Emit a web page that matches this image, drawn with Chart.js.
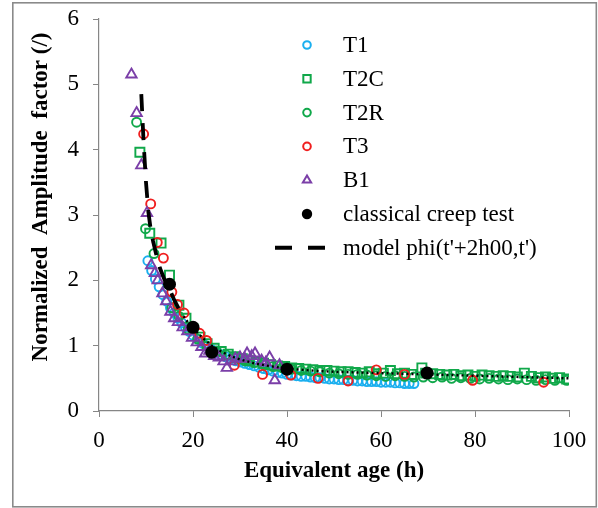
<!DOCTYPE html>
<html>
<head>
<meta charset="utf-8">
<script src="https://cdn.jsdelivr.net/npm/chart.js@4.4.1/dist/chart.umd.min.js"></script>
<style>
html,body{margin:0;padding:0;background:#fff;}
#wrap{position:relative;width:598px;height:508px;}
</style>
</head>
<body>
<div id="wrap"><canvas id="c" width="598" height="508"></canvas></div>
<script>
// ---- data ----
const seriesLabels = ["T1", "T2C", "T2R", "T3", "B1", "classical creep test", "model phi(t'+2h00,t')"];
const xTicks = [0, 20, 40, 60, 80, 100];
const yTicks = [0, 1, 2, 3, 4, 5, 6];

const t1X = [10.4, 11.2, 12.0, 12.8, 13.6, 14.4, 15.2, 16.0, 16.8, 17.6, 18.4, 19.2, 20.0, 21.0, 22.0, 23.0, 24.0, 25.0, 26.0, 27.0, 28.0, 29.0, 30.0, 31.0, 32.0, 33.0, 34.0, 35.0, 36.0, 37.0, 38.0, 39.0, 40.0, 41.0, 42.0, 43.0, 44.0, 45.0, 46.0, 47.0, 48.0, 49.0, 50.0, 51.0, 52.0, 53.0, 54.0, 55.0, 56.0, 57.0, 58.0, 59.0, 60.0, 61.0, 62.0, 63.0, 64.0, 65.0, 66.0, 67.0];
const t1Y = [2.30, 2.15, 2.02, 1.90, 1.78, 1.68, 1.58, 1.50, 1.42, 1.35, 1.28, 1.22, 1.16, 1.10, 1.04, 0.99, 0.94, 0.90, 0.86, 0.83, 0.80, 0.77, 0.75, 0.73, 0.71, 0.69, 0.67, 0.65, 0.63, 0.61, 0.59, 0.58, 0.56, 0.55, 0.54, 0.53, 0.53, 0.52, 0.51, 0.51, 0.50, 0.49, 0.49, 0.48, 0.48, 0.47, 0.47, 0.46, 0.46, 0.45, 0.45, 0.45, 0.44, 0.44, 0.44, 0.43, 0.43, 0.42, 0.42, 0.42];

const t2cX = [8.7, 10.8, 13.2, 15.0, 17.0, 18.5, 20, 21.5, 23, 24.5, 26, 27.5, 29, 30.5, 32, 33.5, 35, 36.5, 38, 39.5, 41, 42.5, 44, 45.5, 47, 48.5, 50, 51.5, 53, 54.5, 56, 57.5, 59, 60.5, 62, 63.5, 65, 66.5, 68.7, 69.5, 71, 72.5, 74, 75.5, 77, 78.5, 80, 81.5, 83, 84.5, 86, 87.5, 89, 90.5, 92, 93.5, 95, 96.5, 98, 99.5];
const t2cY = [3.96, 2.72, 2.57, 2.08, 1.62, 1.42, 1.26, 1.13, 1.03, 0.96, 0.91, 0.87, 0.83, 0.80, 0.77, 0.75, 0.73, 0.71, 0.69, 0.68, 0.66, 0.65, 0.64, 0.63, 0.62, 0.62, 0.61, 0.60, 0.60, 0.59, 0.58, 0.60, 0.57, 0.58, 0.62, 0.57, 0.58, 0.56, 0.66, 0.58, 0.57, 0.56, 0.55, 0.56, 0.54, 0.55, 0.53, 0.55, 0.54, 0.53, 0.54, 0.53, 0.52, 0.58, 0.53, 0.51, 0.52, 0.50, 0.51, 0.49];

const t2rX = [8.0, 9.9, 11.7, 15.5, 17, 19, 21, 23, 25, 27, 29, 31, 33, 35, 37, 39, 41, 43, 45, 47, 49, 51, 53, 55, 57, 59, 61, 63, 65, 67, 69, 71, 73, 75, 77, 79, 81, 83, 85, 87, 89, 91, 93, 95, 97, 99.5];
const t2rY = [4.42, 2.79, 2.41, 1.58, 1.45, 1.25, 1.10, 0.99, 0.92, 0.86, 0.81, 0.77, 0.74, 0.71, 0.68, 0.66, 0.64, 0.62, 0.61, 0.60, 0.58, 0.57, 0.56, 0.56, 0.55, 0.54, 0.53, 0.54, 0.53, 0.52, 0.52, 0.51, 0.52, 0.50, 0.51, 0.50, 0.49, 0.50, 0.49, 0.48, 0.49, 0.48, 0.47, 0.48, 0.47, 0.47];

const t3X = [9.5, 11.0, 12.4, 13.7, 15.5, 16.7, 18.1, 21.4, 22.9, 28.8, 34.8, 40.8, 46.6, 53.0, 59.0, 65.0, 79.5, 94.6];
const t3Y = [4.24, 3.17, 2.58, 2.34, 1.82, 1.63, 1.50, 1.19, 1.08, 0.70, 0.56, 0.55, 0.50, 0.46, 0.63, 0.56, 0.47, 0.44];

const b1X = [6.9, 8.0, 9.0, 10.2, 11.1, 11.9, 12.5, 13.5, 14.3, 15.2, 16.0, 16.8, 17.8, 18.8, 19.8, 20.8, 21.8, 22.6, 23.5, 24.5, 25.5, 26.5, 27.2, 28.0, 29.0, 30.0, 31.0, 31.5, 32.5, 33.2, 34.6, 35.5, 36.3, 37.4, 38.4];
const b1Y = [5.15, 4.56, 3.76, 3.03, 2.23, 2.11, 2.00, 1.80, 1.68, 1.52, 1.42, 1.36, 1.28, 1.22, 1.12, 1.05, 0.98, 0.88, 0.92, 0.84, 0.82, 0.76, 0.66, 0.76, 0.80, 0.82, 0.80, 0.88, 0.84, 0.88, 0.77, 0.74, 0.82, 0.47, 0.70];

const creepX = [15.0, 20.0, 24.0, 40.0, 69.8];
const creepY = [1.94, 1.28, 0.90, 0.64, 0.58];

const modelX = [9.0, 9.5, 10.0, 10.5, 11.0, 11.5, 12.0, 12.5, 13.0, 14.0, 15.0, 16.0, 17.0, 18.0, 19.0, 20.0, 22.0, 24.0, 26.0, 28.0, 30.0, 33.0, 36.0, 40.0, 45.0, 50.0, 55.0, 60.0, 65.0, 70.0, 75.0, 80.0, 85.0, 90.0, 95.0, 100.0];
const modelY = [4.85, 4.10, 3.50, 3.05, 2.78, 2.60, 2.45, 2.30, 2.18, 2.00, 1.87, 1.70, 1.56, 1.45, 1.35, 1.27, 1.12, 1.00, 0.91, 0.84, 0.79, 0.73, 0.69, 0.65, 0.62, 0.60, 0.59, 0.58, 0.57, 0.56, 0.55, 0.54, 0.53, 0.52, 0.51, 0.50];

// ---- build ----
const pts = (xs, ys) => xs.map((x, i) => ({x: x, y: ys[i]}));
const SERIF = "'Liberation Serif', 'Times New Roman', serif";
const AXIS_GRAY = '#868686';
const FONT_PX = 23;

const datasets = [
  {label: seriesLabels[0], data: pts(t1X, t1Y), pointStyle: 'circle', pointRadius: 4.5, borderColor: '#1AAFEF', backgroundColor: 'rgba(0,0,0,0)', pointBorderWidth: 1.9, showLine: false, order: 7},
  {label: seriesLabels[1], data: pts(t2cX, t2cY), pointStyle: 'rect', pointRadius: 6.4, borderColor: '#10A84A', backgroundColor: 'rgba(0,0,0,0)', pointBorderWidth: 1.9, showLine: false, order: 6},
  {label: seriesLabels[2], data: pts(t2rX, t2rY), pointStyle: 'circle', pointRadius: 4.5, borderColor: '#10A84A', backgroundColor: 'rgba(0,0,0,0)', pointBorderWidth: 1.9, showLine: false, order: 5},
  {label: seriesLabels[3], data: pts(t3X, t3Y), pointStyle: 'circle', pointRadius: 4.5, borderColor: '#F01E1E', backgroundColor: 'rgba(0,0,0,0)', pointBorderWidth: 1.9, showLine: false, order: 4},
  {label: seriesLabels[4], data: pts(b1X, b1Y), pointStyle: 'triangle', pointRadius: 6.0, borderColor: '#7B3FA8', backgroundColor: 'rgba(0,0,0,0)', pointBorderWidth: 1.9, showLine: false, order: 3},
  {label: seriesLabels[5], data: pts(creepX, creepY), pointStyle: 'circle', pointRadius: 6.5, borderColor: '#000', backgroundColor: '#000', pointBorderWidth: 0, showLine: false, order: 2},
  {label: seriesLabels[6], data: pts(modelX, modelY), pointRadius: 0, borderColor: '#000', backgroundColor: '#000', borderWidth: 3.8, borderDash: [17, 12], showLine: true, tension: 0, order: 1,
   segment: {
     borderDash: (c) => c.p0.parsed.x >= 18 ? [2, 3] : undefined,
     borderWidth: (c) => c.p0.parsed.x >= 18 ? 2.4 : undefined
   }}
];

const frame = {
  id: 'frame',
  beforeDraw(chart) {
    const ctx = chart.ctx;
    ctx.save();
    ctx.fillStyle = '#fff';
    ctx.fillRect(0, 0, chart.width, chart.height);
    ctx.strokeStyle = '#8a8a8a';
    ctx.lineWidth = 1.6;
    ctx.strokeRect(12.8, 2.8, 583.5, 504);
    ctx.restore();
  },
  afterDraw(chart) {
    const ctx = chart.ctx;
    ctx.save();
    // y-axis title
    ctx.translate(41, 197);
    ctx.rotate(-Math.PI / 2);
    ctx.fillStyle = '#000';
    ctx.font = "bold " + FONT_PX + "px " + SERIF;
    ctx.textAlign = 'center';
    ctx.textBaseline = 'middle';
    ctx.fillText('Normalized  Amplitude  factor (/)', 0, 0);
    ctx.restore();

    // legend
    ctx.save();
    const mx = 307, tx = 343, y0 = 45, dy = 33.8;
    chart.data.datasets.forEach((ds, i) => {
      const y = y0 + i * dy;
      ctx.strokeStyle = ds.borderColor;
      ctx.fillStyle = ds.backgroundColor;
      ctx.setLineDash([]);
      if (ds.showLine) {
        ctx.lineWidth = 4;
        ctx.beginPath();
        ctx.moveTo(275, y); ctx.lineTo(292, y);
        ctx.moveTo(308, y); ctx.lineTo(325, y);
        ctx.stroke();
      } else {
        const r = ds.pointStyle === 'rect' ? 5.2 : (ds.pointStyle === 'triangle' ? 4.8 : (ds.pointBorderWidth === 0 ? 5.2 : 3.8));
        ctx.lineWidth = 2;
        Chart.helpers.drawPoint(ctx, {pointStyle: ds.pointStyle, radius: r, borderWidth: ds.pointBorderWidth > 0 ? 2 : 0, rotation: 0}, mx, y);
      }
      ctx.fillStyle = '#000';
      ctx.font = FONT_PX + "px " + SERIF;
      ctx.textAlign = 'left';
      ctx.textBaseline = 'middle';
      ctx.fillText(ds.label, tx, y + 1);
    });
    ctx.restore();
  }
};

new Chart(document.getElementById('c'), {
  type: 'scatter',
  data: {datasets: datasets},
  plugins: [frame],
  options: {
    responsive: false,
    animation: false,
    events: [],
    layout: {padding: {left: 0, right: 29, top: 19, bottom: 23}},
    plugins: {legend: {display: false}, tooltip: {enabled: false}},
    scales: {
      x: {
        type: 'linear', min: 0, max: 100,
        afterBuildTicks: (s) => { s.ticks = xTicks.map(v => ({value: v})); },
        afterFit: (s) => { s.height = 74; s.paddingLeft = 0; s.paddingRight = 0; },
        grid: {drawOnChartArea: false, drawTicks: true, tickLength: 6, color: AXIS_GRAY},
        border: {color: AXIS_GRAY, width: 1.2},
        ticks: {color: '#000', font: {family: SERIF, size: FONT_PX}, padding: 10, maxRotation: 0},
        title: {display: true, text: 'Equivalent age (h)', color: '#000', font: {family: SERIF, size: FONT_PX, weight: 'bold'}, padding: {top: 0, bottom: 0}}
      },
      y: {
        type: 'linear', min: 0, max: 6,
        afterBuildTicks: (s) => { s.ticks = yTicks.map(v => ({value: v})); },
        afterFit: (s) => { s.width = 99; s.paddingTop = 0; s.paddingBottom = 0; },
        grid: {drawOnChartArea: false, drawTicks: true, tickLength: 6, color: AXIS_GRAY},
        border: {color: AXIS_GRAY, width: 1.2},
        ticks: {color: '#000', font: {family: SERIF, size: FONT_PX}, padding: 14}
      }
    }
  }
});
</script>
</body>
</html>
